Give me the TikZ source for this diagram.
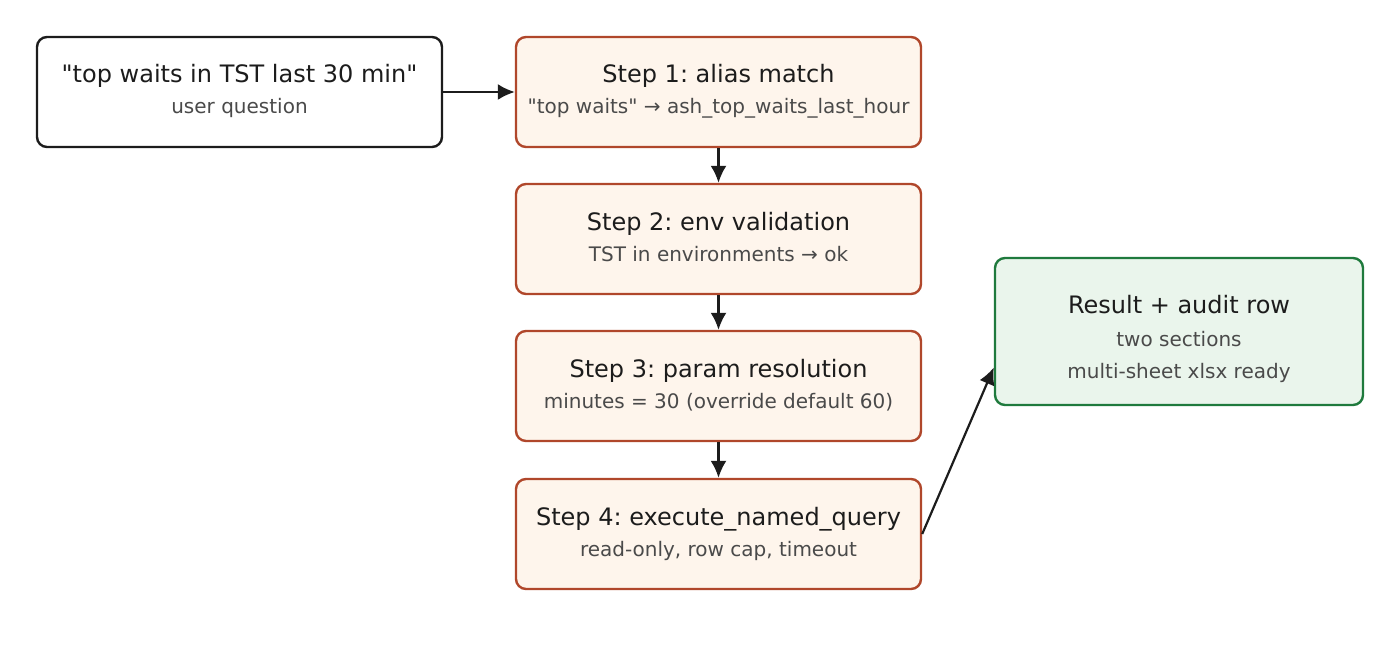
\documentclass[tikz,border=0pt]{standalone}
\usepackage{fontspec}
\setmainfont{DejaVu Sans}
\usepackage{xcolor}
\usetikzlibrary{arrows.meta,positioning}
\frenchspacing

\definecolor{ink}{HTML}{1C1C1C}
\definecolor{subink}{HTML}{4A4A4A}
\definecolor{stepedge}{HTML}{B0472B}
\definecolor{stepfill}{HTML}{FEF5EC}
\definecolor{okedge}{HTML}{1F7A3D}
\definecolor{okfill}{HTML}{EAF5EC}

\begin{document}
\begin{tikzpicture}[x=0.5pt, y=-0.5pt,
  box/.style={draw=ink, fill=white, rounded corners=5pt, line width=1.2pt,
    minimum width=202.5pt, minimum height=55pt, inner sep=0pt},
  stepbox/.style={box, draw=stepedge, fill=stepfill},
  resbox/.style={box, draw=okedge, fill=okfill, minimum width=184pt, minimum height=73.5pt},
  title/.style={anchor=base, text=ink, font=\fontsize{12}{14}\selectfont},
  sub/.style={anchor=base, text=subink, font=\fontsize{10}{12}\selectfont},
  flow/.style={draw=ink, line width=1.1pt, -{Latex[length=8.5pt,width=8pt]}}]
  \useasboundingbox (0,0) rectangle (1400,663);

  % boxes
  \node[box] (ask) at (239.5,92) {};
  \node[stepbox] (s1) at (718.5,92) {};
  \node[stepbox] (s2) at (718.5,239) {};
  \node[stepbox] (s3) at (718.5,386) {};
  \node[stepbox] (s4) at (718.5,534) {};
  \node[resbox] (res) at (1179,331.5) {};

  % texts
  \node[title] (askT) at ([yshift=4.5pt]ask.center) {\textquotedbl top waits in TST last 30 min\textquotedbl};
  \node[sub] (askS) at ([yshift=-11pt]ask.center) {user question};
  \node[title] (s1T) at ([yshift=4.5pt]s1.center) {Step 1: alias match};
  \node[sub] (s1S) at ([yshift=-11pt]s1.center) {\textquotedbl top waits\textquotedbl{} → ash\_top\_waits\_last\_hour};
  \node[title] (s2T) at ([yshift=4.5pt]s2.center) {Step 2: env validation};
  \node[sub] (s2S) at ([yshift=-11pt]s2.center) {TST in environments → ok};
  \node[title] (s3T) at ([yshift=4.5pt]s3.center) {Step 3: param resolution};
  \node[sub] (s3S) at ([yshift=-11pt]s3.center) {minutes = 30 (override default 60)};
  \node[title] (s4T) at ([yshift=4.5pt]s4.center) {Step 4: execute\_named\_query};
  \node[sub] (s4S) at ([yshift=-11pt]s4.center) {read-only, row cap, timeout};
  \node[title] (resT) at ([yshift=9pt]res.center) {Result + audit row};
  \node[sub] (resS1) at ([yshift=-7.5pt]res.center) {two sections};
  \node[sub] (resS2) at ([yshift=-23.5pt]res.center) {multi-sheet xlsx ready};

  % connectors
  \draw[flow] (ask) -- (s1);
  \draw[flow] (s1) -- (s2);
  \draw[flow] (s2) -- (s3);
  \draw[flow] (s3) -- (s4);
  \draw[flow] (s4.east) -- ([yshift=-18pt]res.west);
\end{tikzpicture}
\end{document}
